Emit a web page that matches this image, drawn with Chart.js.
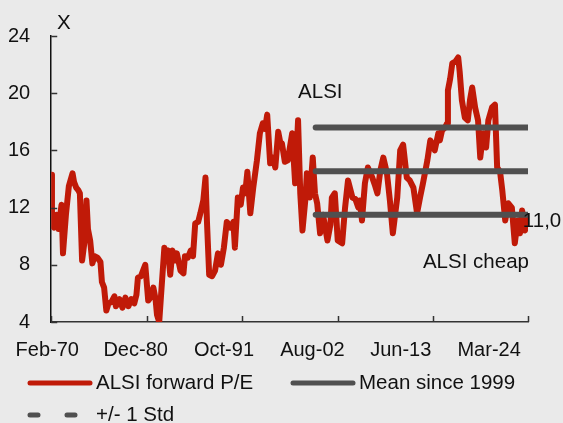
<!DOCTYPE html>
<html>
<head>
<meta charset="utf-8">
<script src="https://cdn.jsdelivr.net/npm/chart.js@4.4.1/dist/chart.umd.min.js"></script>
<style>
  html, body { margin: 0; padding: 0; background: #eaeaea; }
  #wrap { width: 563px; height: 423px; }
</style>
</head>
<body>
<div id="wrap"><canvas id="peChart" width="563" height="423"></canvas></div>
<script>
// Months counted from Feb-70 (0) to Mar-24 (649)
const monthIdx = [0,1,4,7,10,14,16,20,24,29,31,34,37,39,42,45,48,50,53,56,59,63,67,69,72,75,78,82,86,88,93,97,101,105,109,113,116,118,122,128,132,135,139,142,144,147,151,154,156,159,162,165,169,171,176,180,182,186,190,193,196,200,203,207,210,212,215,219,223,227,231,235,239,244,248,250,254,258,261,264,267,271,275,280,284,288,291,294,298,302,305,309,312,314,318,322,328,332,336,339,342,346,348,352,356,359,362,366,370,376,380,382,386,390,396,400,404,410,414,418,420,423,427,431,437,441,444,448,452,457,461,465,471,475,479,484,488,493,498,502,506,512,516,520,522,527,529,532,536,539,540,543,546,550,554,556,559,563,567,570,573,577,581,584,588,592,595,600,604,607,611,614,618,622,627,631,635,638,641,645,649];

// ALSI forward P/E
const pe = [14.3,10.8,10.6,11.5,10.5,12.2,8.8,11.5,13.5,14.4,13.8,13.4,13.2,13.0,8.3,9.5,12.5,10.5,9.7,8.1,8.6,8.5,8.2,6.8,6.4,4.8,5.3,5.4,5.8,5.1,5.6,5.0,5.7,5.1,5.6,5.3,5.9,7.1,7.2,8.0,5.5,5.7,6.4,5.6,4.5,4.0,7.0,9.2,8.4,9.0,7.3,9.0,8.3,8.8,7.6,7.4,8.6,8.5,9.0,8.6,10.9,11.0,11.6,12.5,14.1,11.0,7.3,7.2,7.6,8.8,8.0,9.2,11.0,10.6,11.0,9.2,12.7,12.2,13.4,13.0,14.5,11.6,13.4,15.3,17.2,17.9,17.5,18.5,15.1,15.5,14.8,17.3,16.5,16.5,15.2,15.3,17.2,13.7,18.1,13.0,10.4,12.6,14.4,12.7,15.5,13.0,12.3,10.2,11.5,9.7,10.8,12.7,13.0,9.7,9.5,12.0,13.9,12.7,12.6,12.0,12.5,11.1,13.7,14.8,14.1,13.5,13.0,14.6,15.5,14.4,12.5,10.2,12.7,16.0,16.4,14.1,13.9,13.4,11.6,12.7,13.7,15.3,16.7,16.3,16.0,17.2,16.7,17.4,17.6,17.9,20.2,21.0,22.1,22.2,22.5,21.5,19.5,18.3,18.1,19.5,20.4,19.0,18.1,15.5,17.2,16.2,18.1,19.0,19.2,14.8,14.5,13.2,11.1,12.3,12.0,9.5,11.1,10.2,11.8,10.4,11.6];

// Mean and +/- 1 std since 1999
const statMonths = [360, 649];
const meanPE = 14.55;
const stdPE = 3.05;

const tickLabels = ['Feb-70', 'Dec-80', 'Oct-91', 'Aug-02', 'Jun-13', 'Mar-24'];
const tickMonths = [0, 130, 260, 390, 520, 649];
const yTicks = [4, 8, 12, 16, 20, 24];

const RED = '#c01a08';
const GREY = '#505050';
const FONT = '"Liberation Sans", Arial, sans-serif';

Chart.defaults.font.family = FONT;
Chart.defaults.font.size = 20;
Chart.defaults.color = '#111';

const flat = v => statMonths.map(m => ({ x: m, y: v }));

// inward tick marks, text notes and the legend
const extras = {
  id: 'extras',
  afterDraw(chart, args, opts) {
    const { ctx, chartArea, scales: { x, y } } = chart;
    ctx.save();
    ctx.strokeStyle = '#333';
    ctx.lineWidth = 1.5;
    ctx.beginPath();
    tickMonths.forEach(m => {
      const px = Math.round(x.getPixelForValue(m)) + 0.5;
      ctx.moveTo(px, chartArea.bottom);
      ctx.lineTo(px, chartArea.bottom - 6);
    });
    yTicks.forEach(v => {
      const py = Math.round(y.getPixelForValue(v)) + 0.5;
      ctx.moveTo(chartArea.left, py);
      ctx.lineTo(chartArea.left + 6, py);
    });
    ctx.stroke();

    ctx.fillStyle = '#111';
    ctx.font = '20.5px ' + FONT;
    ctx.textBaseline = 'alphabetic';
    opts.notes.forEach(n => {
      ctx.fillText(n.text, x.getPixelForValue(n.m), y.getPixelForValue(n.v));
    });

    ctx.textBaseline = 'middle';
    ctx.lineCap = 'round';
    opts.legend.forEach(item => {
      ctx.strokeStyle = item.color;
      ctx.lineWidth = 5;
      ctx.setLineDash(item.dash || []);
      ctx.beginPath();
      ctx.moveTo(item.x, item.y);
      ctx.lineTo(item.x + 60, item.y);
      ctx.stroke();
      ctx.fillText(item.text, item.x + 66, item.y);
    });
    ctx.restore();
  }
};

const ctx = document.getElementById('peChart').getContext('2d');
const peChart = new Chart(ctx, {
  type: 'line',
  data: {
    datasets: [
      {
        label: 'ALSI forward P/E',
        data: monthIdx.map((m, i) => ({ x: m, y: pe[i] })),
        borderColor: RED,
        borderWidth: 6,
        borderJoinStyle: 'round',
        pointRadius: 0,
        order: 1
      },
      {
        label: 'Mean since 1999',
        data: flat(meanPE),
        borderColor: GREY,
        borderWidth: 6,
        borderCapStyle: 'round',
        pointRadius: 0,
        order: 0
      },
      {
        label: '+/- 1 Std',
        data: flat(meanPE + stdPE),
        borderColor: GREY,
        borderWidth: 6,
        borderCapStyle: 'round',
        pointRadius: 0,
        order: 0
      },
      {
        label: '+/- 1 Std',
        data: flat(meanPE - stdPE),
        borderColor: GREY,
        borderWidth: 6,
        borderCapStyle: 'round',
        pointRadius: 0,
        order: 0
      }
    ]
  },
  options: {
    responsive: false,
    animation: false,
    layout: { padding: { left: 0, right: 35, top: 36, bottom: 45 } },
    scales: {
      x: {
        type: 'linear',
        min: 0,
        max: 649,
        grid: { display: false, drawTicks: false },
        border: { color: '#333', width: 1.5 },
        afterBuildTicks: s => {
          // the labels sit on their own even spacing, not on the tick marks
          s.ticks = tickLabels.map((_, i) => ({ value: -5.4 + i * 120.3 }));
        },
        ticks: {
          autoSkip: false,
          maxRotation: 0,
          padding: 16,
          callback: (v, i) => tickLabels[i]
        }
      },
      y: {
        min: 4,
        max: 24,
        grid: { display: false, drawTicks: false },
        border: { color: '#111', width: 1.5 },
        afterBuildTicks: s => { s.ticks = yTicks.map(v => ({ value: v })); },
        afterFit: s => { s.width = 51; },
        ticks: { padding: 21 }
      }
    },
    plugins: {
      legend: { display: false },
      tooltip: { enabled: false },
      extras: {
        notes: [
          { text: 'X', m: 8, v: 24.5 },
          { text: 'ALSI', m: 336, v: 19.66 },
          { text: 'ALSI cheap', m: 506, v: 7.78 },
          { text: '11,0', m: 642, v: 10.64 }
        ],
        legend: [
          { text: 'ALSI forward P/E', color: RED, x: 30, y: 383 },
          { text: 'Mean since 1999', color: GREY, x: 293, y: 383 },
          { text: '+/- 1 Std', color: GREY, x: 30, y: 415, dash: [8, 29] }
        ]
      }
    }
  },
  plugins: [extras]
});
</script>
</body>
</html>
